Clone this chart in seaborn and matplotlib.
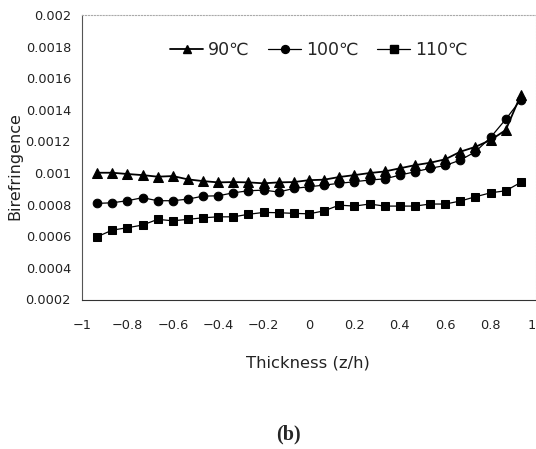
import matplotlib
matplotlib.use("Agg")
import matplotlib.pyplot as plt
import numpy as np
import pandas as pd
import seaborn as sns

# Normalised thickness positions z/h
thickness = [-14/15, -13/15, -12/15, -11/15, -10/15, -9/15, -8/15, -7/15, -6/15, -5/15,
             -4/15, -3/15, -2/15, -1/15, 0.0, 1/15, 2/15, 3/15, 4/15, 5/15,
             6/15, 7/15, 8/15, 9/15, 10/15, 11/15, 12/15, 13/15, 14/15]

biref_90 = [0.001002, 0.001002, 0.000994, 0.000987, 0.000977, 0.000981, 0.000960, 0.000949,
            0.000941, 0.000943, 0.000941, 0.000935, 0.000941, 0.000943, 0.000955, 0.000958,
            0.000975, 0.000987, 0.001000, 0.001010, 0.001030, 0.001050, 0.001065, 0.001087,
            0.001135, 0.001166, 0.001209, 0.001272, 0.001495]

biref_100 = [0.000808, 0.000812, 0.000825, 0.000844, 0.000825, 0.000825, 0.000835, 0.000854,
             0.000856, 0.000875, 0.000888, 0.000892, 0.000880, 0.000903, 0.000913, 0.000924,
             0.000935, 0.000945, 0.000956, 0.000963, 0.000987, 0.001008, 0.001030, 0.001048,
             0.001082, 0.001135, 0.001226, 0.001340, 0.001465]

biref_110 = [0.000597, 0.000639, 0.000654, 0.000671, 0.000707, 0.000698, 0.000707, 0.000717,
             0.000723, 0.000723, 0.000739, 0.000751, 0.000749, 0.000745, 0.000742, 0.000761,
             0.000797, 0.000791, 0.000804, 0.000791, 0.000791, 0.000791, 0.000804, 0.000804,
             0.000823, 0.000850, 0.000875, 0.000888, 0.000941]

series_labels = ["90\u2103", "100\u2103", "110\u2103"]

x_ticks = [-1, -0.8, -0.6, -0.4, -0.2, 0, 0.2, 0.4, 0.6, 0.8, 1]
x_tick_labels = ["\u22121", "\u22120.8", "\u22120.6", "\u22120.4", "\u22120.2", "0",
                 "0.2", "0.4", "0.6", "0.8", "1"]
y_ticks = [0.002, 0.0018, 0.0016, 0.0014, 0.0012, 0.001, 0.0008, 0.0006, 0.0004, 0.0002]
y_tick_labels = ["0.002", "0.0018", "0.0016", "0.0014", "0.0012", "0.001",
                 "0.0008", "0.0006", "0.0004", "0.0002"]

df = pd.concat([
    pd.DataFrame({"z": thickness, "b": vals, "T": lab})
    for vals, lab in zip([biref_90, biref_100, biref_110], series_labels)
], ignore_index=True)

sns.set_theme(style="white")
plt.rcParams["font.family"] = ["DejaVu Sans"]

fig = plt.figure(figsize=(5.36, 4.49), dpi=100)
ax = fig.add_axes([82/536, 1 - 299.5/449, 1 - 82/536, (299.5 - 15)/449])

markers = ["^", "o", "s"]
marker_sizes = [6.8, 6.2, 5.8]
line_widths = [1.3, 0.9, 0.9]

sns.lineplot(data=df, x="z", y="b", hue="T", style="T",
             hue_order=series_labels, style_order=series_labels,
             palette=["black"] * 3, markers=markers, dashes=False,
             markersize=6, markeredgecolor="black", linewidth=1.0,
             ax=ax, legend=False)

for line, ms, lw in zip(ax.lines, marker_sizes, line_widths):
    line.set_markersize(ms)
    line.set_linewidth(lw)

ax.set_xlim(-1, 1)
ax.set_ylim(0.0002, 0.002)
ax.set_xticks(x_ticks)
ax.set_xticklabels(x_tick_labels, fontsize=9.3)
ax.get_xticklabels()[-1].set_horizontalalignment("right")
ax.set_yticks(y_ticks)
ax.set_yticklabels(y_tick_labels, fontsize=9.3)
ax.tick_params(axis="x", length=0, pad=14, colors="#222222")
ax.tick_params(axis="y", length=0, pad=8, colors="#222222")
ax.set_xlabel("")
ax.set_ylabel("")

for side, sp in ax.spines.items():
    sp.set_linewidth(0.8)
ax.spines["left"].set_color("#555555")
ax.spines["bottom"].set_color("#333333")
ax.spines["top"].set_color("#aaaaaa")
ax.spines["top"].set_linestyle(":")
ax.spines["right"].set_color("#cccccc")
ax.spines["right"].set_linestyle(":")

handles = [
    plt.Line2D([], [], color="black", marker=m, markersize=ms - 0.5, linewidth=lw)
    for m, ms, lw in zip(markers, marker_sizes, line_widths)
]
ax.legend(handles, series_labels, loc="center", bbox_to_anchor=(0.522, 0.878),
          ncol=3, frameon=False, fontsize=12.5, handlelength=1.9,
          handletextpad=0.3, columnspacing=1.05)

fig.text(308/536, 1 - 363/449, "Thickness (z/h)", ha="center", va="center",
         fontsize=11.8, color="#222222")
fig.text(15/536, 1 - 166/449, "Birefringence", ha="center", va="center",
         rotation=90, fontsize=11.5, color="#222222")
fig.text(288/536, 1 - 434/449, "(b)", ha="center", va="center",
         fontsize=14.5, fontweight="bold", family="Liberation Serif")

fig.savefig("out.png", dpi=100)
